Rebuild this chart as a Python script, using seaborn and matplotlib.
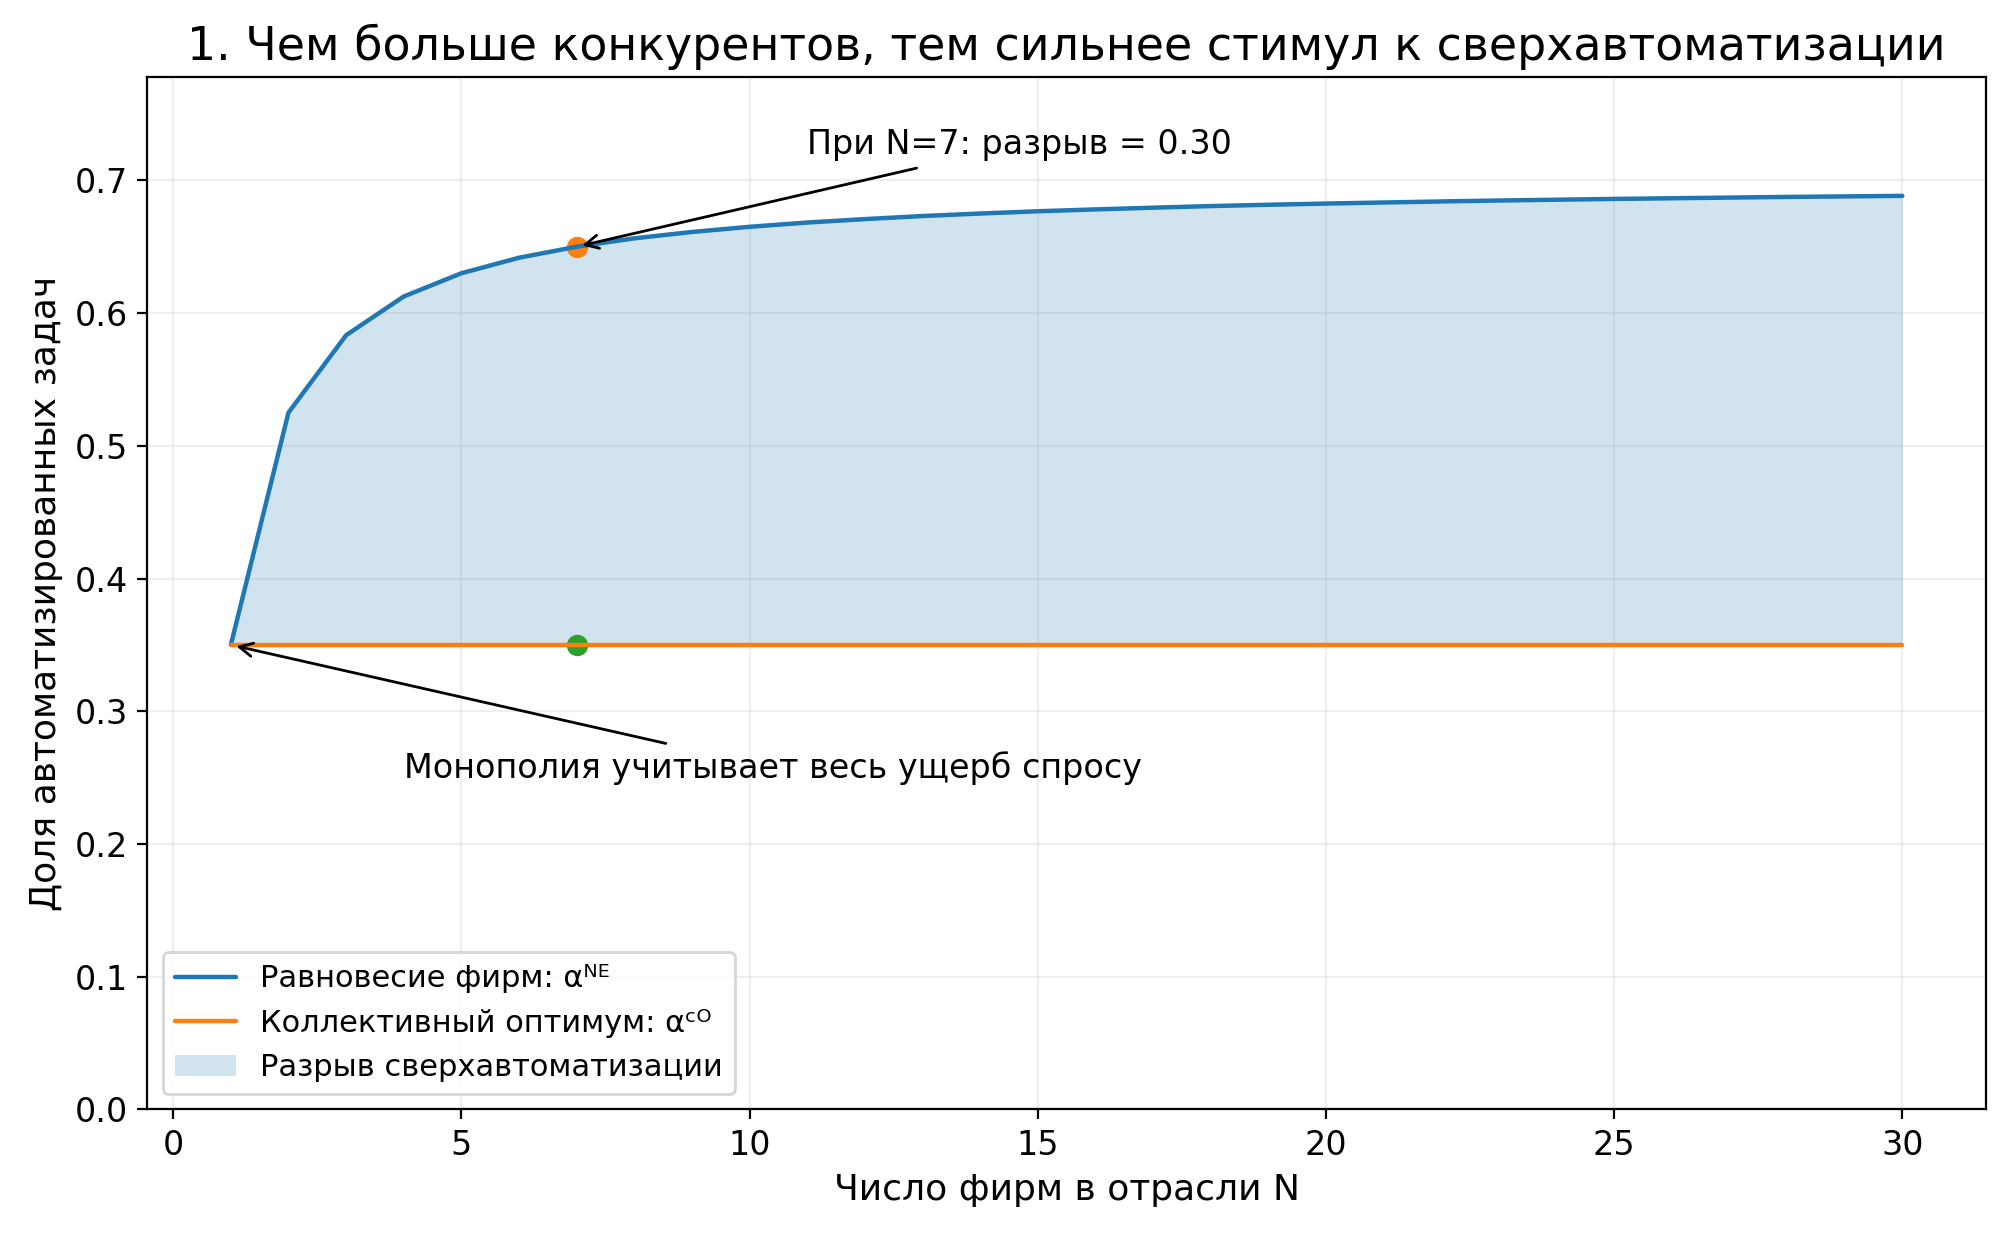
import numpy as np
import pandas as pd
import matplotlib
matplotlib.use('Agg')
import matplotlib.pyplot as plt
import seaborn as sns

# ==================== данные ====================
n_firms = list(range(1, 31))
alpha_ne = [0.3500, 0.5250, 0.5833, 0.6125, 0.6300, 0.6417, 0.6500, 0.6563, 0.6611, 0.6650,
            0.6682, 0.6708, 0.6731, 0.6750, 0.6767, 0.6781, 0.6794, 0.6806, 0.6816, 0.6825,
            0.6833, 0.6841, 0.6848, 0.6854, 0.6860, 0.6865, 0.6870, 0.6875, 0.6879, 0.6883]
alpha_co = [0.35] * 30
n_mark = 7
ne_mark = 0.65
co_mark = 0.35

df = pd.DataFrame({'N': n_firms, 'NE': alpha_ne, 'CO': alpha_co})

sns.set_style('ticks', rc={'text.color': 'black', 'axes.labelcolor': 'black',
                           'xtick.color': 'black', 'ytick.color': 'black',
                           'axes.edgecolor': 'black'})
plt.rcParams['font.family'] = ['DejaVu Sans']

fig, ax = plt.subplots(figsize=(10.045, 6.175), dpi=200)
fig.subplots_adjust(left=0.0733, right=0.9885, top=0.9378, bottom=0.1017)

sns.lineplot(data=df, x='N', y='NE', color='C0', linewidth=1.6,
             label='Равновесие фирм: αᴺᴱ', ax=ax)
sns.lineplot(data=df, x='N', y='CO', color='C1', linewidth=1.6,
             label='Коллективный оптимум: αᶜᴼ', ax=ax)
ax.fill_between(df['N'], df['CO'], df['NE'], color='C0', alpha=0.2,
                linewidth=0, label='Разрыв сверхавтоматизации')

# точки при N=7 (под линиями)
ax.scatter([n_mark], [ne_mark], color='C1', s=45)
ax.scatter([n_mark], [co_mark], color='C2', s=45)

ax.annotate(f'При N=7: разрыв = {ne_mark - co_mark:.2f}', xy=(n_mark, ne_mark),
            xytext=(11, 0.72), fontsize=12,
            arrowprops=dict(arrowstyle='->', color='black'))
ax.annotate('Монополия учитывает весь ущерб спросу', xy=(1, 0.35),
            xytext=(4, 0.25), fontsize=12,
            arrowprops=dict(arrowstyle='->', color='black'))

ax.set_ylim(0, 0.778)
ax.set_xlabel('Число фирм в отрасли N', fontsize=13)
ax.set_ylabel('Доля автоматизированных задач', fontsize=13)
ax.set_title('1. Чем больше конкурентов, тем сильнее стимул к сверхавтоматизации', fontsize=16.5)
ax.tick_params(labelsize=12)
ax.grid(alpha=0.3)
for s in ax.spines.values():
    s.set_visible(True)
ax.legend(loc='lower left', fontsize=11)

fig.savefig('out.png', dpi=200)
